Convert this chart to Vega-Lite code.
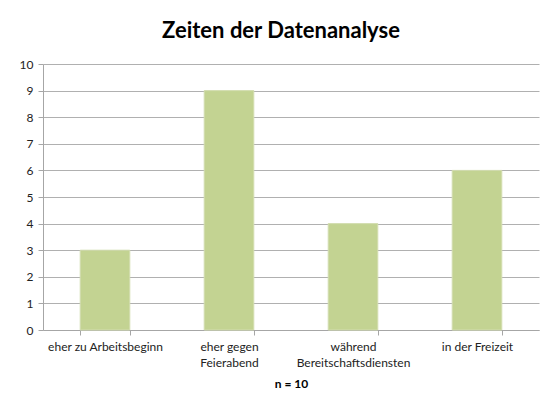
{
  "$schema": "https://vega.github.io/schema/vega-lite/v6.json",
  "autosize": {"type": "none"},
  "width": 496,
  "height": 266,
  "padding": {"left": 43, "top": 64, "right": 4, "bottom": 73},
  "background": "white",
  "title": {
    "text": "Zeiten der Datenanalyse",
    "font": "Lato",
    "fontSize": 22,
    "fontWeight": "bold",
    "color": "#000000",
    "anchor": "middle",
    "dx": -10,
    "offset": 15
  },
  "data": {
    "values": [
      {"Zeit": "eher zu Arbeitsbeginn", "Anzahl": 3},
      {"Zeit": "eher gegen Feierabend", "Anzahl": 9},
      {"Zeit": "während Bereitschaftsdiensten", "Anzahl": 4},
      {"Zeit": "in der Freizeit", "Anzahl": 6}
    ]
  },
  "mark": {"type": "bar", "color": "#C3D392", "stroke": "#D3DDB0", "strokeWidth": 1},
  "encoding": {
    "x": {
      "field": "Zeit",
      "type": "nominal",
      "sort": null,
      "scale": {"paddingInner": 0.6, "paddingOuter": 0.3},
      "axis": {
        "title": "n = 10",
        "titleFont": "Lato",
        "titleFontSize": 12,
        "titleFontWeight": "bold",
        "titleColor": "#000000",
        "titlePadding": 10,
        "labelAngle": 0,
        "labelFont": "Lato",
        "labelFontSize": 12,
        "labelColor": "#222222",
        "labelPadding": 6,
        "labelLineHeight": 16,
        "labelBaseline": "top",
        "labelExpr": "datum.value == 'eher gegen Feierabend' ? ['eher gegen', 'Feierabend'] : datum.value == 'während Bereitschaftsdiensten' ? ['während', 'Bereitschaftsdiensten'] : datum.value",
        "tickBand": "extent",
        "tickSize": 5,
        "tickColor": "#A6A6A6",
        "domainColor": "#A6A6A6"
      }
    },
    "y": {
      "field": "Anzahl",
      "type": "quantitative",
      "scale": {"domain": [0, 10]},
      "axis": {
        "title": null,
        "values": [0, 1, 2, 3, 4, 5, 6, 7, 8, 9, 10],
        "labelFont": "Lato",
        "labelFontSize": 12,
        "labelColor": "#222222",
        "labelPadding": 5,
        "tickSize": 5,
        "tickColor": "#A6A6A6",
        "domainColor": "#A6A6A6",
        "gridColor": "#B0B0B0",
        "grid": true
      }
    }
  },
  "config": {"view": {"stroke": null}}
}
